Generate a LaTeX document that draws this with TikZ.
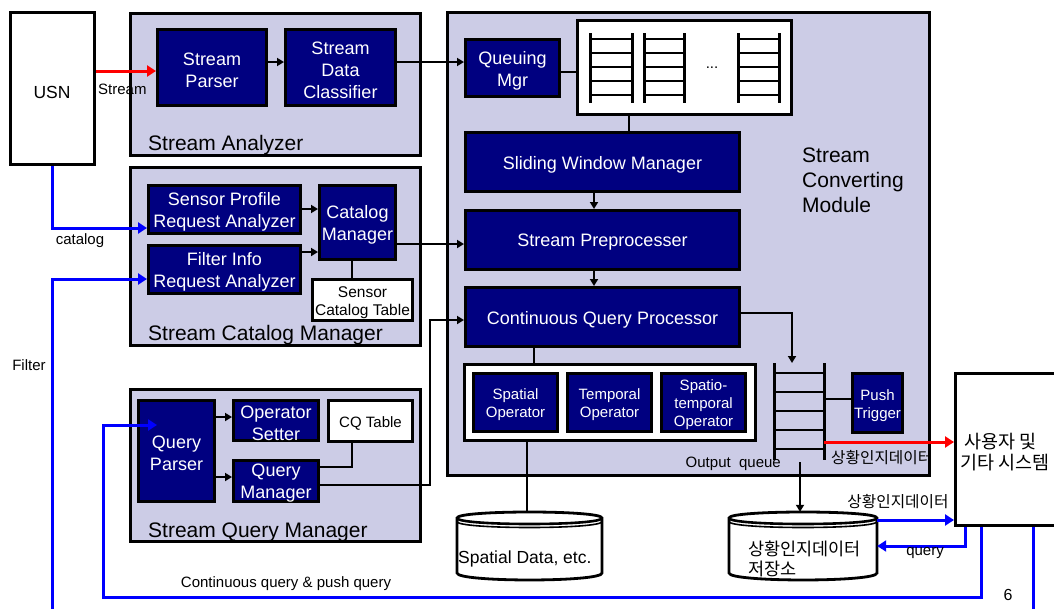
\documentclass[tikz,border=0pt]{standalone}
\usepackage{fontspec}
\setmainfont{Liberation Sans}
\newfontfamily\kr{Noto Sans CJK KR}
\usetikzlibrary{arrows.meta}
\definecolor{panelc}{RGB}{204,204,230}
\definecolor{navyc}{RGB}{0,0,128}
\definecolor{bluec}{RGB}{0,0,255}
\definecolor{redc}{RGB}{255,0,0}
\newcommand\bx[7]{%
  \node[#2, minimum width={#5-#3-3}, minimum height={#6-#4-3}] (#1) at ({(#3+#5)/2},{(#4+#6)/2}) {};
  \node[#2, draw=none, fill=none, minimum width=0pt, minimum height=0pt] (#1-t) at ([yshift=-2.5pt]#1.center) {#7};}
\newcommand\ladder[5]{%
  \draw[line width=3pt] (#1,#3) -- (#1,#4) (#2,#3) -- (#2,#4);
  \foreach \yy in {#5} {\draw[line width=2.6pt] (#1,\yy) -- (#2,\yy);}}
\newcommand\cyl[4]{% x1 x2 ytop-center ybottom-center
  \fill[white] (#1,#3) -- (#1,#4) .. controls (#1,#4+9.3) and (#2,#4+9.3) .. (#2,#4) -- (#2,#3) .. controls (#2,#3-8) and (#1,#3-8) .. (#1,#3) -- cycle;
  \draw[line width=2.8pt] (#1,#3) -- (#1,#4) .. controls (#1,#4+9.3) and (#2,#4+9.3) .. (#2,#4) -- (#2,#3) .. controls (#2,#3-8) and (#1,#3-8) .. (#1,#3) -- cycle;
  \draw[line width=2.6pt] (#1,#3) .. controls (#1,#3+8) and (#2,#3+8) .. (#2,#3);
  \draw[line width=1.6pt] (#1,#3+3.5) .. controls (#1,#3+11.5) and (#2,#3+11.5) .. (#2,#3+3.5);}
\begin{document}
\begin{tikzpicture}[x=1pt,y=-1pt,
  panel/.style={draw=black, fill=panelc, line width=3pt, inner sep=0pt},
  nbox/.style={draw=black, fill=navyc, line width=3pt, text=white, inner sep=0pt, align=center, font=\fontsize{18}{22}\selectfont},
  obox/.style={nbox, font=\fontsize{15}{18}\selectfont},
  wbox/.style={draw=black, fill=white, line width=3pt, inner sep=0pt, align=center},
  conn/.style={line width=2.3pt, draw=black},
  arr/.style={conn, -{Triangle[length=7pt,width=8pt]}},
  bline/.style={line width=3pt, draw=bluec},
  barr/.style={bline, -{Triangle[length=9pt,width=11pt]}},
  rarr/.style={line width=3pt, draw=redc, -{Triangle[length=9pt,width=11pt]}},
  lbl/.style={font=\fontsize{15}{18}\selectfont, inner sep=0pt},
  klbl/.style={font=\kr\fontsize{15.7}{18}\selectfont, inner sep=0pt},
  ptitle/.style={font=\fontsize{21}{25}\selectfont, inner sep=0pt, anchor=west, align=left}]
\useasboundingbox (0,0) rectangle (1054,608);
\fill[white] (0,0) rectangle (1054,608);

% panels
\bx{sa}{panel}{129}{12}{422}{157}{}
\bx{scat}{panel}{129}{166}{422}{347}{}
\bx{sqm}{panel}{129}{388}{422}{543}{}
\bx{scm}{panel}{446}{11}{931}{477}{}
\node[ptitle] (sat) at (148,145) {Stream Analyzer};
\node[ptitle] (scatt) at (148,335) {Stream Catalog Manager};
\node[ptitle] (sqmt) at (148,532) {Stream Query Manager};
\node[ptitle] (scmt) at (802,180) {Stream\\Converting\\Module};

% USN
\bx{usn}{wbox}{9}{11}{96}{166}{}
\node[font=\fontsize{17.5}{20}\selectfont] (usnt) at (52,92) {USN};

% Stream analyzer
\bx{sp}{nbox}{156}{28}{268}{107}{Stream\\Parser}
\bx{sdc}{nbox}{284}{28}{397}{107}{Stream\\Data\\Classifier}

% catalog manager
\bx{spra}{nbox}{147}{184}{302}{235}{Sensor Profile\\Request Analyzer}
\bx{fira}{nbox}{147}{244}{302}{295}{Filter Info\\Request Analyzer}
\bx{cm}{nbox}{318}{184}{397}{261}{Catalog\\Manager}
\bx{sct}{wbox, font=\fontsize{15.5}{18}\selectfont}{311}{278}{414}{322}{Sensor\\Catalog Table}

% query manager
\bx{qp}{nbox}{137}{399}{216}{503}{Query\\Parser}
\bx{os}{nbox}{232}{399}{320}{442}{Operator\\Setter}
\bx{qmn}{nbox}{232}{459}{320}{503}{Query\\Manager}
\bx{cqt}{wbox, font=\fontsize{15}{18}\selectfont}{327}{399}{414}{443}{CQ Table}

% converting module
\bx{qmgr}{nbox}{464}{38}{561}{98}{Queuing\\Mgr}
\bx{qbox}{wbox}{576}{19}{793}{116}{}
\ladder{590}{632}{33}{103}{39,53,67,81,95}
\ladder{644}{684}{33}{103}{39,53,67,81,95}
\ladder{738}{779}{33}{103}{39,53,67,81,95}
\node[font=\fontsize{15}{18}\selectfont] (dots) at (712,68) {...};
\bx{swm}{nbox}{464}{131}{741}{193}{Sliding Window Manager}
\bx{spre}{nbox}{464}{209}{741}{271}{Stream Preprocesser}
\bx{cqp}{nbox}{464}{286}{741}{348}{Continuous Query Processor}
\bx{opc}{wbox}{463}{363}{757}{442}{}
\bx{spop}{obox}{472}{372}{559}{433}{Spatial\\Operator}
\bx{top}{obox}{566}{372}{653}{433}{Temporal\\Operator}
\bx{stop}{obox}{660}{372}{747}{433}{Spatio-\\temporal\\Operator}
\bx{pt}{obox}{851}{372}{904}{434}{Push\\Trigger}
\ladder{774}{824}{363}{460}{373,392,411,430,449}
\coordinate (oqtop) at (792,363);
\coordinate (oqr) at (824,399);
\coordinate (oqr2) at (824,442);
\coordinate (oqbot) at (800,462);
\node[lbl, anchor=east] (oql) at (781,464) {Output\ \ queue};
\node[klbl, anchor=west] (k1) at (831,458) {상황인지데이터};

% user box
\bx{user}{wbox}{954}{372}{1090}{527}{}
\node[font=\kr\fontsize{18.5}{20.5}\selectfont, anchor=west, align=left, inner sep=0pt] (usert) at (960,452) {\ 사용자 및\\기타 시스템};

% databases
\node[minimum width=145, minimum height=68, inner sep=0pt] (sdb) at (529.5,546) {};
\cyl{457}{602}{518}{573}
\node[font=\fontsize{17.5}{20}\selectfont, anchor=west, inner sep=0pt] (sdbt) at (458,559) {Spatial Data, etc.};
\node[minimum width=148, minimum height=68, inner sep=0pt] (db2) at (803,546) {};
\cyl{729}{877}{518}{573}
\node[font=\kr\fontsize{17.5}{20}\selectfont, anchor=west, align=left, inner sep=0pt] (db2t) at (748,559) {상황인지데이터\\저장소};

% connectors
\draw[rarr] (usn.east |- 0,71) -- (sp.west |- 0,71);
\node[lbl, anchor=west] (strl) at (98,89) {Stream};
\draw[arr] (sp.east |- 0,62) -- (sdc.west |- 0,62);
\draw[arr] (sdc.east |- 0,62) -- (qmgr.west |- 0,62);
\draw[conn] (qmgr.east |- 0,72) -- (qbox.west |- 0,72);
\draw[conn] (qbox.south -| 629,0) -- (swm.north -| 629,0);
\draw[arr] (swm.south -| 594,0) -- (spre.north -| 594,0);
\draw[arr] (spre.south -| 594,0) -- (cqp.north -| 594,0);
\draw[arr] (spra.east |- 0,209) -- (cm.west |- 0,209);
\draw[arr] (fira.east |- 0,252) -- (cm.west |- 0,252);
\draw[conn] (cm.south -| 352,0) -- (sct.north -| 352,0);
\draw[arr] (cm.east |- 0,244) -- (spre.west |- 0,244);
\draw[arr] (qp.east |- 0,417) -- (os.west |- 0,417);
\draw[arr] (qp.east |- 0,477) -- (qmn.west |- 0,477);
\draw[conn] (qmn.east |- 0,467) -| (cqt.south -| 352,0);
\draw[arr] (qmn.east |- 0,485) -- (430,485) |- (cqp.west |- 0,320);
\draw[arr] (cqp.east |- 0,313) -| (oqtop);
\draw[conn] (cqp.south -| 534,0) -- (opc.north -| 534,0);
\draw[conn] (opc.south -| 527,0) -- (sdb.north -| 527,0);
\draw[conn] (oqr) -- (pt.west |- oqr);
\draw[rarr] (oqr2) -- (user.west |- oqr2);
\draw[arr] (oqbot) -- (db2.north -| oqbot);
\draw[barr] (db2.east |- 0,520) -- (user.west |- 0,520);
\node[klbl] (k2) at (898,502) {상황인지데이터};
\draw[barr] (user.south -| 965,0) |- (db2.east |- 0,546);
\node[lbl] (ql) at (925,553) {query};
\coordinate (qpin) at (157,425);
\draw[barr] (user.south -| 981,0) |- (103,597) |- (qpin);
\node[lbl] (cql) at (286,584) {Continuous query \& push query};
\draw[barr] (usn.south -| 52,0) |- (spra.west |- 0,228);
\node[lbl] (catl) at (80,241) {catalog};
\coordinate (fbot) at (52,612);
\draw[barr] (fbot) |- (fira.west |- 0,279);
\node[lbl] (fl) at (29,365) {Filter};
\coordinate (ubot) at (1033,612);
\draw[bline] (user.south -| ubot) -- (ubot);
\node[font=\fontsize{16}{19}\selectfont] (pg) at (1008,595) {6};
\end{tikzpicture}
\end{document}
